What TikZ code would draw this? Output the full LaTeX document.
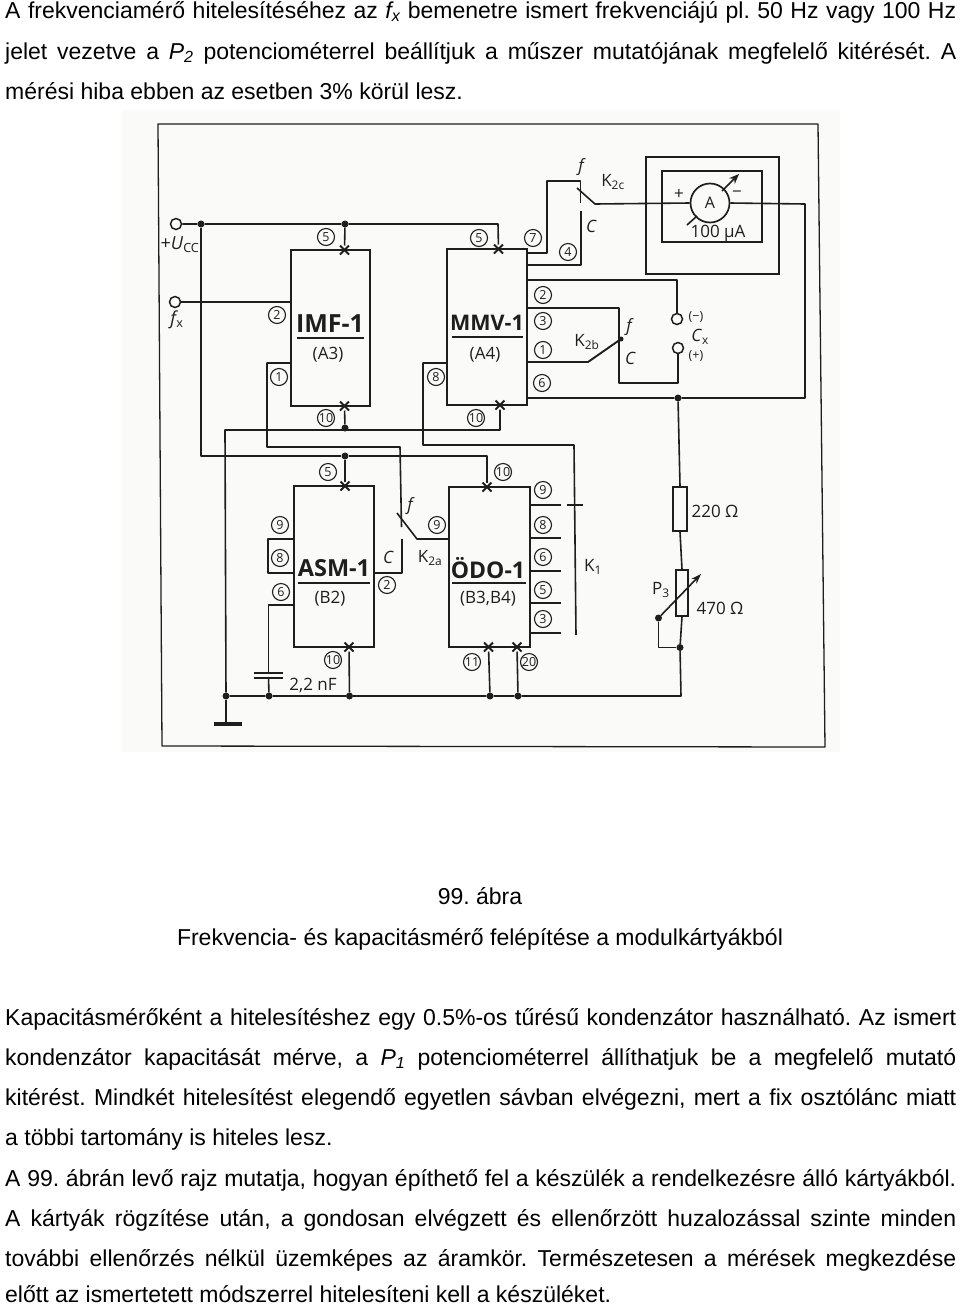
\documentclass[tikz,border=0pt]{standalone}
\usepackage{fontspec}
\setmainfont{Liberation Sans}
\newfontfamily\schem{Open Sans}
\usetikzlibrary{arrows.meta,shapes.misc}
\definecolor{ink}{HTML}{1E1E1E}
\definecolor{paper}{HTML}{FAFAF8}
\newcommand{\fitline}[1]{\makebox[951pt][s]{#1}}
\newcommand{\ital}[2]{{\itshape #1\textsubscript{#2}}}
\frenchspacing
\tikzset{
  wire/.style={draw=ink,line width=1.6pt,line join=round},
  modbox/.style={draw=ink,line width=1.7pt,rectangle,inner sep=0pt},
  plainbox/.style={draw=ink,line width=1.6pt,rectangle,inner sep=0pt},
  termnode/.style={draw=ink,line width=1.5pt,circle,fill=paper,minimum size=11pt,inner sep=0pt},
  jdot/.style={fill=ink,circle,minimum size=7pt,inner sep=0pt},
  pinx/.style={draw=ink,line width=2pt,cross out,minimum size=7pt,inner sep=0pt},
  pinnum/.style={draw=ink,line width=1.1pt,circle,minimum size=17pt,inner sep=0pt,text=ink,font=\schem\fontsize{12.5}{12.5}\selectfont},
  modname/.style={text=ink,font=\schem\bfseries\fontsize{#1}{25}\selectfont,inner sep=0pt},
  modname/.default=25,
  modsub/.style={text=ink,font=\schem\fontsize{17}{17}\selectfont,inner sep=0pt},
  lab/.style={text=ink,font=\schem\fontsize{17}{17}\selectfont,inner sep=0pt},
  labi/.style={text=ink,font=\schem\itshape\fontsize{17}{17}\selectfont,inner sep=0pt},
  body/.style={anchor=base west,inner sep=0pt,text=black,font=\fontsize{23}{23}\selectfont},
  capt/.style={anchor=base,inner sep=0pt,text=black,font=\fontsize{23}{23}\selectfont},
}
\begin{document}
\begin{tikzpicture}[x=1pt,y=-1pt]
\useasboundingbox (0,0) rectangle (960,1307);
\fill[white] (0,0) rectangle (960,1307);
\fill[paper] (122,110) rectangle (840,752);
% body text
\node[body] (t1) at (5,18) {\fitline{A frekvenciamérő hitelesítéséhez az \ital{f}{x} bemenetre ismert frekvenciájú pl. 50 Hz vagy 100 Hz}};
\node[body] (t2) at (5,59) {\fitline{jelet vezetve a \ital{P}{2} potenciométerrel beállítjuk a műszer mutatójának megfelelő kitérését. A}};
\node[body] (t3) at (5,99) {mérési hiba ebben az esetben 3\% körül lesz.};
\node[capt] (c1) at (480,904) {99. ábra};
\node[capt] (c2) at (480,945) {Frekvencia- és kapacitásmérő felépítése a modulkártyákból};
\node[body] (t4) at (5,1025) {\fitline{Kapacitásmérőként a hitelesítéshez egy 0.5\%-os tűrésű kondenzátor használható. Az ismert}};
\node[body] (t5) at (5,1065) {\fitline{kondenzátor kapacitását mérve, a \ital{P}{1} potenciométerrel állíthatjuk be a megfelelő mutató}};
\node[body] (t6) at (5,1105) {\fitline{kitérést. Mindkét hitelesítést elegendő egyetlen sávban elvégezni, mert a fix osztólánc miatt}};
\node[body] (t7) at (5,1145) {a többi tartomány is hiteles lesz.};
\node[body] (t8) at (5,1186) {\fitline{A 99. ábrán levő rajz mutatja, hogyan építhető fel a készülék a rendelkezésre álló kártyákból.}};
\node[body] (t9) at (5,1226) {\fitline{A kártyák rögzítése után, a gondosan elvégzett és ellenőrzött huzalozással szinte minden}};
\node[body] (t10) at (5,1266) {\fitline{további ellenőrzés nélkül üzemképes az áramkör. Természetesen a mérések megkezdése}};
\node[body] (t11) at (5,1302) {előtt az ismertetett módszerrel hitelesíteni kell a készüléket.};
% frame
\coordinate (fa) at (158,124); \coordinate (fb) at (818,124);
\coordinate (fc) at (825,747); \coordinate (fd) at (162,746);
\draw[wire,line width=1.3pt] (fa) -- (fb) -- (fc) -- (fd) -- cycle;
% modules
\node[modbox,minimum width=79pt,minimum height=156pt] (imf) at (330.5,328) {};
\node[modbox,minimum width=80pt,minimum height=156pt] (mmv) at (487,327) {};
\node[modbox,minimum width=80pt,minimum height=161pt] (asm) at (334,566.5) {};
\node[modbox,minimum width=81pt,minimum height=160pt] (odo) at (489.5,567) {};
% module names
\node[modname] (imfn) at (330,324) {IMF-1};
\node[modsub] (imfs) at (328,355) {(A3)};
\node[modname=21.5] (mmvn) at (487,323) {MMV-1};
\node[modsub] (mmvs) at (485,355) {(A4)};
\node[modname=23.5] (asmn) at (334,568) {ASM-1};
\node[modsub] (asms) at (330,599) {(B2)};
\node[modname=23] (odon) at (488,568) {ÖDO-1};
\node[modsub] (odos) at (488,599) {(B3,B4)};
\coordinate (u1a) at (297,338); \coordinate (u1b) at (364,338);
\coordinate (u2a) at (452,337); \coordinate (u2b) at (523,337);
\coordinate (u3a) at (298,583); \coordinate (u3b) at (370,583);
\coordinate (u4a) at (452,583); \coordinate (u4b) at (526,583);
\draw[wire,line width=2pt] (u1a) -- (u1b) (u2a) -- (u2b) (u3a) -- (u3b) (u4a) -- (u4b);
% pin crosses
\node[pinx] (xit) at (344.5,250) {};
\node[pinx] (xib) at (344.5,406) {};
\node[pinx] (xmt) at (498.5,249) {};
\node[pinx] (xmb) at (500,405) {};
\node[pinx] (xat) at (345,486) {};
\node[pinx] (xab) at (349,647) {};
\node[pinx] (xot) at (487,487) {};
\node[pinx] (xob1) at (488.5,647) {};
\node[pinx] (xob2) at (517,647) {};
% terminals and junctions
\node[termnode] (ucc) at (176,224) {};
\node[termnode] (fx) at (175,302) {};
\node[termnode] (cxm) at (677,319) {};
\node[termnode] (cxp) at (678,348) {};
\node[jdot] (j1) at (201,224) {};
\node[jdot] (j2) at (345,224) {};
\node[jdot] (j3) at (345,456) {};
\node[jdot] (j4) at (345,428) {};
\node[jdot] (j5) at (226,696) {};
\node[jdot] (j6) at (269,696) {};
\node[jdot] (j7) at (349.5,696) {};
\node[jdot] (j8) at (490,696) {};
\node[jdot] (j9) at (518,696) {};
\node[jdot] (j10) at (680,647.5) {};
\node[jdot] (j11) at (658.5,618) {};
\node[jdot] (j12) at (678,398) {};
\node[jdot,minimum size=5pt] (j13) at (621,339) {};
% supply
\coordinate (s1) at (498,224);
\coordinate (s2) at (201,456);
\coordinate (s3) at (487,456);
\draw[wire] (ucc) -- (j1) -- (j2) -- (s1) -- (xmt);
\draw[wire] (j2) -- (xit);
\draw[wire] (j1) -- (s2) -- (j3) -- (s3) -- (xot);
\draw[wire] (j3) -- (xat);
\draw[wire] (fx) -- (fx -| imf.west);
% ground
\coordinate (g1) at (225,430);
\coordinate (g2) at (500,430);
\coordinate (g3) at (345,430);
\coordinate (g4) at (681,696);
\node[fill=ink,rectangle,minimum width=28pt,minimum height=3.5pt,inner sep=0pt] (gnd) at (228,724) {};
\draw[wire] (xib) -- (j4);
\draw[wire] (j5) -- (g1) -- (g3) -- (g2) -- (xmb);
\draw[wire] (j5) -- (gnd.north -| j5);
\draw[wire] (j5) -- (j6) -- (j7) -- (j8) -- (j9) -- (g4) -- (j10);
\draw[wire] (j7) -- (xab);
\draw[wire] (j8) -- (xob1);
\draw[wire] (j9) -- (xob2);
% IMF pin 1 to K2a f contact
\coordinate (a1) at (291,363); \coordinate (a2) at (267,363);
\coordinate (a3) at (267,447); \coordinate (a4) at (400,447);
\coordinate (a5) at (401.5,527);
\draw[wire] (a1) -- (a2) -- (a3) -- (a4) -- (a5);
% K2a
\coordinate (k1) at (397,513); \coordinate (k2) at (417,539);
\coordinate (k3) at (449,539); \coordinate (k4) at (402,539);
\coordinate (k5) at (402,573); \coordinate (k6) at (374,573);
\draw[wire] (k1) -- (k2) -- (k3);
\draw[wire] (k4) -- (k5) -- (k6);
% MMV pin 8 to K1
\coordinate (b1) at (447,363); \coordinate (b2) at (423,363);
\coordinate (b3) at (423,445); \coordinate (b4) at (574,445);
\coordinate (b5) at (576,635);
\draw[wire] (b1) -- (b2) -- (b3) -- (b4) -- (b5);
\coordinate (t5a) at (567,505); \coordinate (t5b) at (583,505);
\draw[wire] (t5a) -- (t5b);
\foreach \n/\y in {ra/505,rb/538,rc/571,rd/603,re/633}{
  \coordinate (\n L) at (530,\y); \coordinate (\n R) at (561,\y);
  \draw[wire] (\n L) -- (\n R);
}
% ASM left
\coordinate (d1) at (294,539); \coordinate (d2) at (268,539);
\coordinate (d3) at (268,573); \coordinate (d4) at (294,573);
\draw[wire] (d1) -- (d2) -- (d3) -- (d4);
\coordinate (e1) at (294,605); \coordinate (e2) at (268.5,605);
\coordinate (e3) at (268.5,673); \coordinate (e4) at (268.5,677);
\coordinate (cp1a) at (254,673); \coordinate (cp1b) at (283,673);
\coordinate (cp2a) at (254,678); \coordinate (cp2b) at (283,678);
\draw[wire] (e1) -- (e2) -- (e3);
\draw[wire] (e4) -- (j6);
\draw[wire,line width=1.8pt] (cp1a) -- (cp1b) (cp2a) -- (cp2b);
% MMV right side
\coordinate (m7a) at (527,253); \coordinate (m7b) at (547,253);
\coordinate (m7c) at (547,181); \coordinate (m7d) at (580.5,181);
\coordinate (m7e) at (580.5,203);
\draw[wire] (m7a) -- (m7b) -- (m7c) -- (m7d) -- (m7e);
\coordinate (m4a) at (527,265); \coordinate (m4b) at (581,265);
\coordinate (m4c) at (581,211);
\draw[wire] (m4a) -- (m4b) -- (m4c);
\coordinate (m2a) at (527,280); \coordinate (m2b) at (677,280);
\draw[wire] (m2a) -- (m2b) -- (cxm);
\coordinate (m3a) at (527,308); \coordinate (m3b) at (619,308);
\coordinate (m3c) at (619,383); \coordinate (m3d) at (678,383);
\draw[wire] (m3a) -- (m3b) -- (m3c) -- (m3d) -- (cxp);
\coordinate (m1a) at (527,362); \coordinate (m1b) at (588,362);
\draw[wire,line width=1.9pt] (m1a) -- (m1b) -- (j13);
% meter
\node[plainbox,minimum width=133pt,minimum height=117pt] (mout) at (712.5,215.5) {};
\node[plainbox,minimum width=100pt,minimum height=71pt] (minn) at (712,206.5) {};
\node[draw=ink,line width=1.7pt,circle,fill=paper,minimum size=39pt,inner sep=0pt,text=ink,font=\schem\fontsize{16}{16}\selectfont] (meter) at (710,203) {A};
\coordinate (w1) at (577,188); \coordinate (w2) at (595,204);
\coordinate (w3) at (805,204); \coordinate (w4) at (805,398);
\draw[wire] (w1) -- (w2) -- (meter.west);
\draw[wire] (meter.east) -- (w3) -- (w4) -- (j12) -- (m1a |- j12);
\coordinate (n1) at (687,225); \coordinate (n2) at (697,216);
\coordinate (n3) at (722,191); \coordinate (n4) at (739,174);
\draw[wire] (n1) -- (n2);
\draw[wire,-{Stealth[length=10pt,width=8pt]}] (n3) -- (n4);
\node[lab] (mplus) at (679,194) {+};
\node[lab] (mminus) at (737,194) {−};
\node[lab] (m100) at (718,233) {100 µA};
% right branch
\node[plainbox,fill=paper,minimum width=14pt,minimum height=44pt] (r220) at (680,509) {};
\node[plainbox,fill=paper,minimum width=12pt,minimum height=46pt] (pot) at (682,593) {};
\coordinate (h1) at (658.5,647.5);
\draw[wire] (j12) -- (r220.north);
\draw[wire] (r220.south) -- (pot.north);
\draw[wire] (pot.south) -- (j10);
\draw[wire] (j11) -- (h1) -- (j10);
\coordinate (n5) at (701,574);
\draw[wire,-{Stealth[length=10pt,width=7pt]}] (j11) -- (n5);
% pin numbers
\foreach \nm/\x/\y/\txt in {p1/326/237/5,p2/277/315/2,p3/279/377/1,p4/326/418/10,
  p5/479/238/5,p6/533/238/7,p7/568/252/4,p8/543/295/2,p9/543/321/3,p10/543/350/1,p11/542/383/6,
  p12/476/418/10,p13/436/377/8,p14/328/472/5,p15/503/472/10,p16/280/525/9,p17/280/558/8,p18/281/592/6,
  p19/387/585/2,p20/437/525/9,p21/333/660/10,p22/472/662/11,p23/529/662/20,
  p24/543/490/9,p25/543/525/8,p26/543/557/6,p27/543/590/5,p28/543/619/3}{
  \node[pinnum] (\nm) at (\x,\y) {\txt};
}
% labels
\node[lab,font=\schem\fontsize{18}{18}\selectfont] (lucc) at (180,245) {+\textit{U}\textsubscript{CC}};
\node[lab,font=\schem\fontsize{18}{18}\selectfont] (lfx) at (177,320) {\textit{f}\kern-2pt\textsubscript{x}};
\node[labi] (f1) at (581,167) {f};
\node[lab] (k2c) at (613,182) {K\textsubscript{2c}};
\node[labi] (c1l) at (591,226) {C};
\node[lab] (k2b) at (587,342) {K\textsubscript{2b}};
\node[labi] (f2) at (629,327) {f};
\node[labi] (c2l) at (630,358) {C};
\node[lab,font=\schem\fontsize{12.5}{12.5}\selectfont] (cxn) at (696,317) {(−)};
\node[lab] (cx) at (700,337) {\textit{C}\textsubscript{x}};
\node[lab,font=\schem\fontsize{12.5}{12.5}\selectfont] (cxq) at (696,356) {(+)};
\node[labi] (f3) at (410,506) {f};
\node[labi] (c3l) at (388,557) {C};
\node[lab] (k2a) at (430,558) {K\textsubscript{2a}};
\node[lab] (cap) at (313,685) {2,2 nF};
\node[lab] (k1l) at (593,567) {K\textsubscript{1}};
\node[lab] (r1l) at (715,511) {220 Ω};
\node[lab] (p3l) at (661,590) {P\textsubscript{3}};
\node[lab] (r2l) at (720,608) {470 Ω};
\end{tikzpicture}
\end{document}
